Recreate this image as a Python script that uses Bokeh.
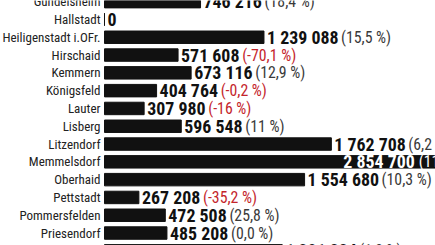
import subprocess
from PIL import ImageFont
from bokeh.plotting import figure
from bokeh.models import ColumnDataSource, Range1d
from bokeh.core.properties import value
from bokeh.embed import file_html
from bokeh.resources import INLINE

names = ["Gundelsheim", "Hallstadt", "Heiligenstadt i.OFr.", "Hirschaid", "Kemmern",
         "Königsfeld", "Lauter", "Lisberg", "Litzendorf", "Memmelsdorf", "Oberhaid",
         "Pettstadt", "Pommersfelden", "Priesendorf", "Rattelsdorf"]
values = [746216, 0, 1239088, 571608, 673116, 404764, 307980, 596548, 1762708,
          2854700, 1554680, 267208, 472508, 485208, 1381224]
changes = ["18,4 %", "", "15,5 %", "-70,1 %", "12,9 %", "-0,2 %", "-16 %", "11 %",
           "6,2 %", "11,2 %", "10,3 %", "-35,2 %", "25,8 %", "0,0 %", "1,0 %"]
inside = ["Memmelsdorf"]

PX_PER_UNIT = 0.0001287

candidates = ["Liberation Sans Narrow", "Nimbus Sans Narrow", "Arial Narrow",
              "Roboto Condensed", "Archivo Narrow", "PT Sans Narrow",
              "Fira Sans Condensed", "Barlow Semi Condensed", "Open Sans"]


def match(fam, bold=False):
    pat = fam + (":weight=200" if bold else ":weight=80")
    try:
        r = subprocess.run(["fc-match", "-f", "%{family}|%{file}", pat],
                           capture_output=True, text=True).stdout
        f, path = r.split("|", 1)
        return [x.strip() for x in f.split(",")], path.strip()
    except Exception:
        return [], None


FONT = "Open Sans"
reg_path = bold_path = None
for c in candidates:
    fams, path = match(c)
    if c in fams and path:
        fams_b, path_b = match(c, True)
        FONT = c
        reg_path = path
        bold_path = path_b if path_b else path
        break


def width(txt, size, bold=False):
    path = bold_path if bold else reg_path
    if path:
        try:
            return ImageFont.truetype(path, 100).getlength(txt) * size / 100.0
        except Exception:
            pass
    return len(txt) * size * 0.5


# pick sizes so that reference widths are met
LBL_SIZE = min(15.0, 14.5 * 98 / max(width("Heiligenstadt i.OFr.", 14.5), 1))
VAL_SIZE = min(20.0, 19 * 70 / max(width("1 239 088", 19, True), 1))
PCT_SIZE = min(17.0, 16 * 50 / max(width("(15,5 %)", 16), 1))

idx = list(range(len(names)))
val_txt, pct_txt, val_off, pct_off, val_align, pct_align, val_col, pct_col = [], [], [], [], [], [], [], []
for n, v, c in zip(names, values, changes):
    vs = f"{v:,}".replace(",", " ")
    ps = f"({c})" if c else ""
    vw = width(vs, VAL_SIZE, True)
    pw = width(ps, PCT_SIZE)
    val_txt.append(vs)
    pct_txt.append(ps)
    if n in inside:
        pct_off.append(-3)
        val_off.append(-3 - pw - 4)
        val_align.append("right")
        pct_align.append("right")
        val_col.append("#ffffff")
        pct_col.append("#ffffff")
    else:
        val_off.append(3)
        pct_off.append(3 + vw + 4)
        val_align.append("left")
        pct_align.append("left")
        val_col.append("#111111")
        pct_col.append("#c4252b" if c.startswith("-") else "#3a3a3a")

src = ColumnDataSource(dict(y=idx, name=names, v=values, vt=val_txt, pt=pct_txt,
                            vo=val_off, po=pct_off, va=val_align, pa=pct_align,
                            vc=val_col, pc=pct_col))

x0 = -104 / PX_PER_UNIT
x1 = 331 / PX_PER_UNIT
p = figure(width=435, height=245, output_backend="svg", toolbar_location=None,
           x_range=Range1d(x0, x1), y_range=Range1d(13.70, -0.065),
           min_border=0, outline_line_color=None)
p.axis.visible = False
p.grid.visible = False
p.background_fill_color = "white"
p.border_fill_color = "white"

p.hbar(y="y", left=0, right="v", height=0.70, color="#111111", source=src)
p.text(x=0, y="y", text="name", x_offset=-4, text_align="right", text_baseline="middle",
       text_font=value(FONT), text_font_size=f"{LBL_SIZE:.1f}px", text_color="#222222", source=src)
p.text(x="v", y="y", text="vt", x_offset="vo", text_align="va", text_baseline="middle",
       text_font=value(FONT), text_font_size=f"{VAL_SIZE:.1f}px", text_font_style="bold",
       text_color="vc", source=src)
p.text(x="v", y="y", text="pt", x_offset="po", text_align="pa", text_baseline="middle",
       text_font=value(FONT), text_font_size=f"{PCT_SIZE:.1f}px", text_color="pc", source=src)

open("out.html", "w").write(file_html(p, INLINE))
